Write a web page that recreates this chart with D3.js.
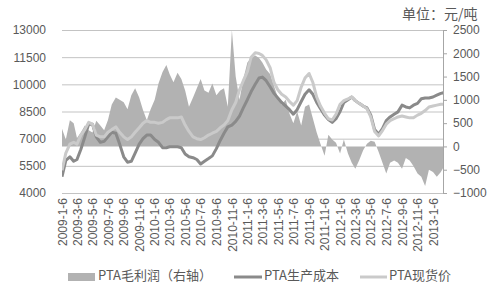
<!DOCTYPE html>
<html>
<head>
<meta charset="utf-8">
<script src="https://cdn.jsdelivr.net/npm/d3@7"></script>
<style>
  body { margin: 0; background: #fff; }
  svg { font-family: "Liberation Sans", "Noto Sans CJK SC", sans-serif; }
</style>
</head>
<body>
<svg id="chart" width="500" height="294"></svg>
<script>
// x axis labels (every 2 months)
var tickLabels = ["2009-1-6","2009-3-6","2009-5-6","2009-7-6","2009-9-6","2009-11-6",
    "2010-1-6","2010-3-6","2010-5-6","2010-7-6","2010-9-6","2010-11-6",
    "2011-1-6","2011-3-6","2011-5-6","2011-7-6","2011-9-6","2011-11-6",
    "2012-1-6","2012-3-6","2012-5-6","2012-7-6","2012-9-6","2012-11-6","2013-1-6"];
var leftTicks = [4000, 5500, 7000, 8500, 10000, 11500, 13000];
var rightTicks = [-1000, -500, 0, 500, 1000, 1500, 2000, 2500];

// readings taken twice a month (6th and 21st), 2009-01-06 .. 2013-02-21
var profit = [380,150,560,500,180,300,450,350,300,550,450,350,570,900,1050,1000,950,800,1100,1250,
    1050,780,560,800,1000,1350,1600,1750,1550,1380,1580,1450,1200,850,1050,1250,1450,1200,1150,1350,
    1100,1200,1250,850,2500,1500,1000,1450,1800,1900,1950,1900,1800,1650,1550,1300,1050,900,1000,700,
    500,750,450,850,900,600,300,50,-200,250,150,80,-150,150,-150,-350,-480,-300,-80,60,
    120,100,-120,-350,-580,-350,-300,-350,-480,-250,-300,-420,-580,-650,-850,-500,-550,-650,-550,-400];
var cost = [4900,5800,6000,5750,5850,6400,7100,7800,7800,7100,6800,6850,7100,7350,7300,6700,6000,5700,5750,6200,
    6700,7000,7200,7200,6950,6800,6500,6500,6550,6550,6550,6500,6150,6000,5950,5850,5600,5750,5900,6050,
    6450,6900,7300,7650,7750,7950,8250,8700,9150,9600,10000,10350,10400,10200,9850,9500,9250,9000,8800,8600,
    8350,8600,9050,9450,9700,9450,9000,8650,8300,8050,7900,8100,8500,9000,9150,9300,9100,8950,8800,8700,
    8300,7500,7250,7550,8000,8200,8350,8480,8850,8750,8700,8850,8950,9200,9250,9250,9300,9400,9500,9550];
var spot = [5250,6200,6700,6800,6700,7200,7500,7900,7800,7200,7100,7100,7350,7500,7650,7350,7100,6950,7100,7350,
    7600,7850,8000,7900,7900,7850,7900,8050,8150,8150,8150,8200,7750,7400,7100,7000,6950,7050,7200,7300,
    7400,7600,7750,8000,8600,9000,9700,10200,10700,11500,11750,11700,11600,11350,10900,10100,9700,9450,9300,9050,
    8850,9100,9850,10350,10600,10100,9300,8800,8400,8100,8030,8350,8900,9100,9200,9300,9100,8950,8800,8650,
    8200,7400,7150,7450,7800,8000,8100,8200,8250,8200,8150,8150,8300,8400,8550,8750,8800,8850,8900,8900];

var dates = [];
for (var m = 0; m < 50; m++) {
    dates.push(new Date(2009, m, 6));
    dates.push(new Date(2009, m, 21));
}

var pad_left = 62, pad_right = 443, pad_top = 30, pad_bottom = 193;
var parseLabel = d3.timeParse("%Y-%m-%d");

var svg = d3.select("#chart");

var xScale = d3.scaleTime()
    .domain([new Date(2009, 0, 6), new Date(2013, 0, 6)])
    .range([pad_left, 433]);
var yLeft = d3.scaleLinear().domain([4000, 13000]).range([pad_bottom, pad_top]);
var yRight = d3.scaleLinear().domain([-1000, 2500]).range([pad_bottom, pad_top]);

//gridlines + left labels
var leftAxis = d3.axisLeft(yLeft)
    .tickValues(leftTicks)
    .tickFormat(d3.format("d"))
    .tickSize(-(pad_right - pad_left))
    .tickPadding(16);
var gl = svg.append("g")
    .attr("class", "y axis")
    .attr("transform", "translate(" + pad_left + ",0)")
    .call(leftAxis);
gl.select(".domain").remove();
gl.selectAll("line").attr("stroke", "#c3c3c3");
gl.selectAll("text").attr("fill", "#595959").attr("font-size", "12px");

//clip for the series
svg.append("clipPath").attr("id", "plot")
    .append("rect")
    .attr("x", pad_left).attr("y", 0)
    .attr("width", pad_right - pad_left).attr("height", 294);

var plot = svg.append("g").attr("clip-path", "url(#plot)");

//profit area on right axis
var area = d3.area()
    .x(function(d, i) { return xScale(dates[i]); })
    .y0(yRight(0))
    .y1(function(d) { return yRight(d); });
plot.append("path")
    .datum(profit)
    .attr("d", area)
    .attr("fill", "#b2b2b2");

var lineLeft = d3.line()
    .x(function(d, i) { return xScale(dates[i]); })
    .y(function(d) { return yLeft(d); });

plot.append("path")
    .datum(cost)
    .attr("d", lineLeft)
    .attr("fill", "none")
    .attr("stroke", "#8a8a8a")
    .attr("stroke-width", 3)
    .attr("stroke-linejoin", "round");

plot.append("path")
    .datum(spot)
    .attr("d", lineLeft)
    .attr("fill", "none")
    .attr("stroke", "#cacaca")
    .attr("stroke-width", 3)
    .attr("stroke-linejoin", "round");

//right axis
var rightAxis = d3.axisRight(yRight)
    .tickValues(rightTicks)
    .tickFormat(d3.format("d"))
    .tickSize(4)
    .tickSizeOuter(0)
    .tickPadding(6);
var gr = svg.append("g")
    .attr("class", "y axis right")
    .attr("transform", "translate(" + pad_right + ",0)")
    .call(rightAxis);
gr.selectAll("line, path").attr("stroke", "#a6a6a6");
gr.selectAll("text").attr("fill", "#595959").attr("font-size", "12px");

//x axis labels, rotated
var xAxis = d3.axisBottom(xScale)
    .tickValues(tickLabels.map(function(s) { return parseLabel(s); }))
    .tickFormat(function(d, i) { return tickLabels[i]; })
    .tickSize(0);
var gx = svg.append("g")
    .attr("class", "x axis")
    .attr("transform", "translate(0," + pad_bottom + ")")
    .call(xAxis);
gx.select(".domain").remove();
gx.selectAll("text")
    .attr("fill", "#595959")
    .attr("font-size", "12px")
    .attr("text-anchor", "end")
    .attr("transform", "rotate(-90)")
    .attr("x", -5)
    .attr("y", 0)
    .attr("dy", "0.35em");

//unit
svg.append("text")
    .attr("x", 402)
    .attr("y", 19)
    .attr("font-size", "14px")
    .attr("fill", "#595959")
    .attr("font-family", "Noto Sans CJK SC")
    .text("单位：元/吨");

//legend
var legend = svg.append("g").attr("font-family", "Noto Sans CJK SC").attr("fill", "#595959");
legend.append("rect")
    .attr("x", 68).attr("y", 273).attr("width", 27).attr("height", 8)
    .attr("fill", "#b2b2b2");
legend.append("text").attr("x", 98).attr("y", 280).attr("font-size", "13px").text("PTA毛利润（右轴）");
legend.append("line")
    .attr("x1", 234).attr("x2", 262).attr("y1", 277).attr("y2", 277)
    .attr("stroke", "#8a8a8a").attr("stroke-width", 3);
legend.append("text").attr("x", 264).attr("y", 280).attr("font-size", "13px").text("PTA生产成本");
legend.append("line")
    .attr("x1", 360).attr("x2", 387).attr("y1", 277).attr("y2", 277)
    .attr("stroke", "#cacaca").attr("stroke-width", 3);
legend.append("text").attr("x", 389).attr("y", 280).attr("font-size", "13px").text("PTA现货价");
</script>
</body>
</html>
